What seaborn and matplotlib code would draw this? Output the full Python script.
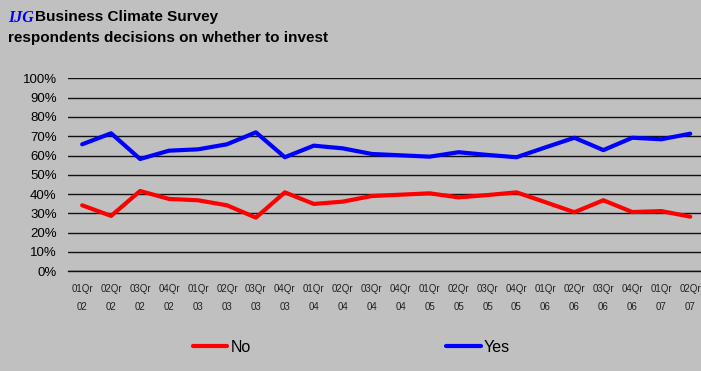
import matplotlib
matplotlib.use("Agg")
import matplotlib.pyplot as plt
import seaborn as sns
import pandas as pd
import numpy as np
from matplotlib.lines import Line2D

quarters = ["01Qr\n02", "02Qr\n02", "03Qr\n02", "04Qr\n02",
            "01Qr\n03", "02Qr\n03", "03Qr\n03", "04Qr\n03",
            "01Qr\n04", "02Qr\n04", "03Qr\n04", "04Qr\n04",
            "01Qr\n05", "02Qr\n05", "03Qr\n05", "04Qr\n05",
            "01Qr\n06", "02Qr\n06", "03Qr\n06", "04Qr\n06",
            "01Qr\n07", "02Qr\n07"]
no_vals = [34.2, 28.7, 41.6, 37.5, 36.8, 34.2, 27.8, 40.9, 34.9, 36.1,
           39.0, 39.7, 40.4, 38.3, 39.5, 40.9, 35.8, 30.6, 36.8, 30.7, 31.2, 28.3]
yes_vals = [65.8, 71.5, 58.2, 62.5, 63.2, 65.8, 72.0, 59.1, 65.1, 63.7,
            60.8, 60.1, 59.4, 61.7, 60.3, 59.1, 64.2, 69.2, 62.8, 69.2, 68.4, 71.3]
series_names = ["No", "Yes"]
series_colors = ["#FF0000", "#0000FF"]

df = pd.DataFrame({
    "idx": list(range(len(quarters))) * 2,
    "value": no_vals + yes_vals,
    "series": ["No"] * len(no_vals) + ["Yes"] * len(yes_vals),
})

sns.set_style("white")
plt.rcParams['font.family'] = ['Liberation Sans', 'DejaVu Sans']
plt.rcParams['text.color'] = 'black'
plt.rcParams['xtick.color'] = 'black'
plt.rcParams['ytick.color'] = 'black'
bg = "#C0C0C0"
fig = plt.figure(figsize=(7.01, 3.71), dpi=100, facecolor=bg)
ax = fig.add_axes([67.7/701, 1 - 271.3/371, 637/701, (271.3-78.3)/371])
ax.set_facecolor(bg)

sns.lineplot(data=df, x="idx", y="value", hue="series", palette=series_colors,
             hue_order=series_names, linewidth=3, ax=ax, legend=False)

ax.set_xlim(-0.5, len(quarters) - 0.5)
ax.set_ylim(0, 100)
ax.set_yticks(np.arange(0, 101, 10))
ax.set_yticklabels([f"{v}%" for v in range(0, 101, 10)], fontsize=9.5)
ax.yaxis.grid(True, color="#111111", linewidth=1)
ax.set_axisbelow(True)
ax.set_xticks(range(len(quarters)))
ax.set_xticklabels(quarters, fontsize=7, linespacing=2.0)
ax.set_xticks(np.arange(-0.5, len(quarters), 1), minor=True)
ax.tick_params(axis="x", which="major", length=0, pad=9, labelcolor="#222222")
ax.tick_params(axis="x", which="minor", length=4, width=1, direction="out", color="#111111")
ax.tick_params(axis="y", length=0, pad=8)
ax.set_xlabel("")
ax.set_ylabel("")
for s in ["left", "right", "top"]:
    ax.spines[s].set_visible(False)
ax.spines["bottom"].set_color("#111111")
ax.spines["bottom"].set_linewidth(1)

fig.text(8/701, 1 - 18/371, "IJG", family="Liberation Serif", style="italic",
         fontweight="bold", color="#0000FF", fontsize=11.5, va="center")
fig.text(35/701, 1 - 17/371, "Business Climate Survey", fontweight="bold",
         fontsize=11, va="center")
fig.text(8/701, 1 - 38/371, "respondents decisions on whether to invest",
         fontweight="bold", fontsize=11, va="center")

handles = [Line2D([], [], color=c, linewidth=3) for c in series_colors]
fig.legend(handles, series_names, loc="center left",
           bbox_to_anchor=(193/701, 1 - 347/371), ncol=2, frameon=False,
           borderpad=0, borderaxespad=0,
           fontsize=11.5, handlelength=2.15, handletextpad=0.2, columnspacing=12.25)

fig.savefig("out.png", dpi=100, facecolor=bg)
